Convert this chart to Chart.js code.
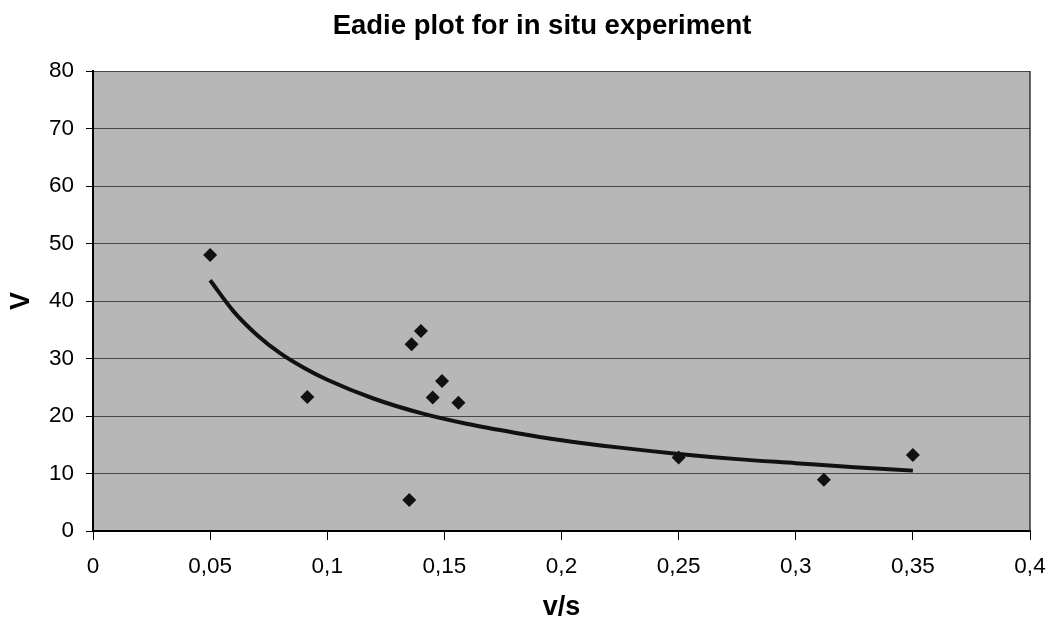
<!DOCTYPE html>
<html>
<head>
<meta charset="utf-8">
<title>Eadie plot</title>
<script src="https://cdn.jsdelivr.net/npm/chart.js@4/dist/chart.umd.min.js"></script>
<style>
  html, body { margin: 0; padding: 0; background: #fff; }
  #wrap { width: 1049px; height: 622px; }
</style>
</head>
<body>
<div id="wrap"><canvas id="eadieChart" width="1049" height="622"></canvas></div>
<script>
// measured points (v/s , V)
const vsValues = [0.05, 0.0915, 0.136, 0.140, 0.149, 0.145, 0.156, 0.135, 0.25, 0.312, 0.35];
const vValues = [48.0, 23.3, 32.5, 34.8, 26.1, 23.2, 22.3, 5.4, 12.8, 8.9, 13.2];

// trend line
const trendX = [0.05, 0.06, 0.07, 0.08, 0.09, 0.10, 0.12, 0.14, 0.16, 0.18, 0.20, 0.225, 0.25, 0.275, 0.30, 0.325, 0.35];
const trendY = [43.6, 38.2, 34.1, 30.9, 28.4, 26.3, 23.0, 20.5, 18.6, 17.1, 15.8, 14.5, 13.4, 12.5, 11.8, 11.1, 10.5];

const chartTitle = "Eadie plot for in situ experiment";

const FONT = "'Liberation Sans', Arial, sans-serif";

const points = vsValues.map((x, i) => ({ x: x, y: vValues[i] }));
const trend = trendX.map((x, i) => ({ x: x, y: trendY[i] }));

// grey plot area, right border and the title (title sits a bit off centre)
const plotBg = {
  id: "plotBg",
  beforeDraw(chart) {
    const { ctx, chartArea: a } = chart;
    ctx.save();
    ctx.fillStyle = "#b7b7b7";
    ctx.fillRect(a.left, a.top, a.right - a.left, a.bottom - a.top);
    ctx.restore();
  },
  afterDatasetsDraw(chart) {
    const { ctx, chartArea: a } = chart;
    ctx.save();
    ctx.strokeStyle = "#333";
    ctx.lineWidth = 1.5;
    ctx.beginPath();
    ctx.moveTo(a.right, a.top);
    ctx.lineTo(a.right, a.bottom);
    ctx.stroke();
    ctx.restore();
  },
  afterDraw(chart) {
    const ctx = chart.ctx;
    ctx.save();
    ctx.fillStyle = "#000";
    ctx.font = "bold 27.5px " + FONT;
    ctx.textAlign = "center";
    ctx.textBaseline = "alphabetic";
    ctx.fillText(chartTitle, 542, 34);
    ctx.restore();
  }
};

new Chart(document.getElementById("eadieChart"), {
  type: "scatter",
  data: {
    datasets: [
      {
        label: "V",
        data: points,
        pointStyle: "rectRot",
        pointRadius: 7,
        pointHoverRadius: 7,
        backgroundColor: "#111",
        borderColor: "#111",
        borderWidth: 0
      },
      {
        label: "trend",
        data: trend,
        showLine: true,
        pointRadius: 0,
        borderColor: "#111",
        borderWidth: 4,
        cubicInterpolationMode: "monotone",
        fill: false
      }
    ]
  },
  options: {
    responsive: false,
    animation: false,
    devicePixelRatio: 1,
    layout: { padding: { left: 0, right: 19, top: 71, bottom: 0 } },
    plugins: {
      legend: { display: false },
      tooltip: { enabled: false },
      title: { display: false }
    },
    scales: {
      x: {
        type: "linear",
        min: 0,
        max: 0.4,
        afterFit(scale) {
          scale.height = 91;
          scale.paddingRight = 12;
        },
        ticks: {
          stepSize: 0.05,
          color: "#000",
          padding: 13.5,
          maxRotation: 0,
          font: { family: FONT, size: 22.5 },
          callback: v => String(Math.round(v * 100) / 100).replace(".", ",")
        },
        grid: {
          drawOnChartArea: false,
          drawTicks: true,
          tickLength: 9,
          color: "#000"
        },
        border: { color: "#000", width: 2 },
        title: {
          display: true,
          text: "v/s",
          color: "#000",
          font: { family: FONT, size: 27, weight: "bold" },
          padding: { top: 0, bottom: -2 }
        }
      },
      y: {
        min: 0,
        max: 80,
        afterFit(scale) {
          scale.width = 93;
          scale.paddingTop = 0;
          scale.paddingBottom = 0;
        },
        ticks: {
          stepSize: 10,
          color: "#000",
          padding: 12,
          font: { family: FONT, size: 22.5 }
        },
        grid: {
          color: "#474747",
          lineWidth: 1,
          tickColor: "#000",
          tickLength: 7
        },
        border: { color: "#000", width: 2 },
        title: {
          display: true,
          text: "V",
          color: "#000",
          font: { family: FONT, size: 27, weight: "bold" },
          padding: { top: 5, bottom: 0 }
        }
      }
    }
  },
  plugins: [plotBg]
});
</script>
</body>
</html>
